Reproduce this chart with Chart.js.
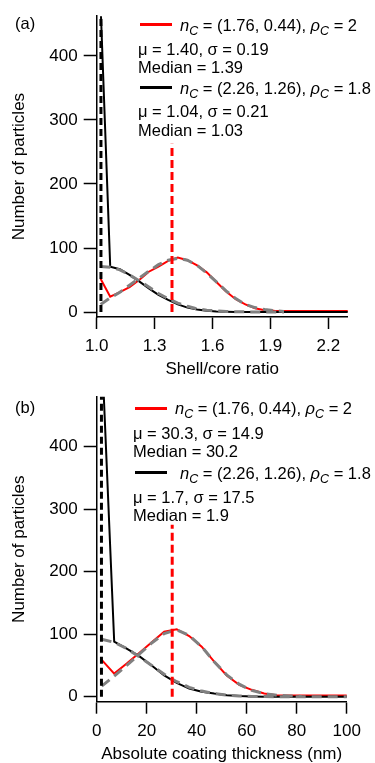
<!DOCTYPE html>
<html><head><meta charset="utf-8">
<script src="https://cdn.jsdelivr.net/npm/chart.js@4.4.0/dist/chart.umd.min.js"></script>
<style>
html,body{margin:0;padding:0;background:#fff;width:375px;height:763px;overflow:hidden;}
#wrap{position:relative;width:375px;height:763px;}
canvas{position:absolute;left:0;}
.t{position:absolute;font-family:"Liberation Sans",Arial,sans-serif;font-size:16.5px;line-height:20px;color:#000;white-space:nowrap;}
.sub{font-size:12.5px;position:relative;top:4px;font-style:italic;}
.sw{position:absolute;height:3px;width:32px;}
</style></head><body>
<div id="wrap">
<canvas id="ca" width="375" height="380" style="top:0px"></canvas>
<canvas id="cb" width="375" height="385" style="top:380px"></canvas>

<div class="t" style="left:15px;top:13px">(a)</div>
<div class="sw" style="left:140px;top:23px;background:#ff0000"></div>
<div class="t" style="left:180px;top:15px"><i>n</i><span class="sub">C</span> = (1.76, 0.44), <i>ρ</i><span class="sub">C</span> = 2</div>
<div class="t" style="left:138px;top:39px">μ = 1.40, σ = 0.19</div>
<div class="t" style="left:138px;top:57px">Median = 1.39</div>
<div class="sw" style="left:140px;top:86px;background:#000"></div>
<div class="t" style="left:180px;top:78px"><i>n</i><span class="sub">C</span> = (2.26, 1.26), <i>ρ</i><span class="sub">C</span> = 1.8</div>
<div class="t" style="left:138px;top:101px">μ = 1.04, σ = 0.21</div>
<div class="t" style="left:138px;top:120px">Median = 1.03</div>

<div class="t" style="left:15px;top:397px">(b)</div>
<div class="sw" style="left:135px;top:407px;background:#ff0000"></div>
<div class="t" style="left:175px;top:398px"><i>n</i><span class="sub">C</span> = (1.76, 0.44), <i>ρ</i><span class="sub">C</span> = 2</div>
<div class="t" style="left:133px;top:423px">μ = 30.3, σ = 14.9</div>
<div class="t" style="left:133px;top:441px">Median = 30.2</div>
<div class="sw" style="left:135px;top:471px;background:#000"></div>
<div class="t" style="left:180px;top:463px"><i>n</i><span class="sub">C</span> = (2.26, 1.26), <i>ρ</i><span class="sub">C</span> = 1.8</div>
<div class="t" style="left:133px;top:487px">μ = 1.7, σ = 17.5</div>
<div class="t" style="left:133px;top:505px">Median = 1.9</div>
</div>
<script>
// ---------- Panel (a): shell/core ratio ----------
const binsA = [1.02,1.07,1.12,1.17,1.22,1.27,1.32,1.37,1.42,1.47,1.52,1.57,1.62,1.67,1.72,1.77,1.82,1.87,1.92,1.97,2.02,2.07,2.12,2.17,2.22,2.27,2.32];
const redCountsA = [52,24,31,39,50,63,71,80,85,81,73,62,47,32,20,12,6,3,2,1.5,1.5,1.5,1.5,1.5,1.5,1.5,1.5];
const blackCountsA = [480,71,67,58,48,37,27,19,12,7,4,2,1,0.5,0,0,0,0,0,0,0,0,0,0,0,0,0];
const redFitA = [12,22,31,42,53,64,74,81,84,81,73,61,47,33,21,12,7,4,2,1];
const blackFitA = [71,70,66,58,49,39,29,21,14,9,5,3,2,1,0.5,0.3,0.2,0,0,0];
const redMedianA = [1.39, 1.39];
const redMedianYA = [0, 263];
const blackMedianA = [1.022, 1.022];
const blackMedianYA = [0, 1000];
const xTicksA = [1.0, 1.3, 1.6, 1.9, 2.2];
const yTicksA = [0, 100, 200, 300, 400];

// ---------- Panel (b): absolute coating thickness ----------
const binsB = [2,7,12,17,22,27,32,37,42,47,52,57,62,67,72,77,82,87,92,97,102];
const redCountsB = [59,37,53,70,87,104,108,97,80,56,34,19,11,5,2.5,2,2,2,2,2,2];
const blackCountsB = [560,88,77,65,50,34,22,13,8,5,2.5,1.2,0.5,0,0,0,0,0,0,0,0];
const redFitB = [17,33,50,68,86,101,107,98,80,56,35,20,10,5,2.5,1.2,0.5];
const blackFitB = [92,87,77,64,50,36,24,15,9,5,2.5,1.2,0.5,0.2,0,0,0,0,0,0,0];
const redMedianB = [30.2, 30.2];
const redMedianYB = [0, 275];
const blackMedianB = [1.9, 1.9];
const blackMedianYB = [0, 1000];
const xTicksB = [0, 20, 40, 60, 80, 100];
const yTicksB = [0, 100, 200, 300, 400];

const FONT = {family: '"Liberation Sans", Arial, sans-serif', size: 17};
const pts = (xs, ys) => ys.map((y, i) => ({x: xs[i], y: y}));

function build(id, d, g) {
  const ds = [
    {data: pts(d.redMedX, d.redMedY), borderColor: '#ff0000', borderWidth: 3, borderDash: [8, 4]},
    {data: pts(d.blackMedX, d.blackMedY), borderColor: '#000000', borderWidth: 3, borderDash: [7, 4]},
    {data: pts(d.bins, d.redFit), borderColor: '#808080', borderWidth: 3, borderDash: [10, 6]},
    {data: pts(d.bins, d.blackFit), borderColor: '#808080', borderWidth: 3, borderDash: [10, 6]},
    {data: pts(d.bins, d.black), borderColor: '#000000', borderWidth: 2},
    {data: pts(d.bins, d.red), borderColor: '#ff0000', borderWidth: 2}
  ].map(o => Object.assign({pointRadius: 0, tension: 0, fill: false}, o));

  return new Chart(document.getElementById(id), {
    type: 'line',
    data: {datasets: ds},
    options: {
      responsive: false, animation: false, devicePixelRatio: 1, events: [],
      layout: {padding: g.pad},
      plugins: {legend: {display: false}, tooltip: {enabled: false}},
      scales: {
        x: {
          type: 'linear', min: g.xmin, max: g.xmax,
          border: {display: true, color: '#000', width: 1.5},
          grid: {display: true, drawOnChartArea: false, drawTicks: true, tickLength: 12, tickWidth: 1.5, tickColor: '#000', color: '#000'},
          ticks: {font: FONT, color: '#000', padding: g.xpad, autoSkip: false, maxRotation: 0, callback: g.xfmt},
          title: {display: true, text: g.xtitle, font: FONT, color: '#000', padding: {top: 0, bottom: g.titleBottom}},
          afterBuildTicks: s => { s.ticks = d.xTicks.map(v => ({value: v})); },
          afterFit: s => { s.height = g.xh; }
        },
        y: {
          type: 'linear', min: g.ymin, max: g.ymax,
          border: {display: true, color: '#000', width: 1.5},
          grid: {display: true, drawOnChartArea: false, drawTicks: true, tickLength: 13, tickWidth: 1.5, tickColor: '#000', color: '#000'},
          ticks: {font: FONT, color: '#000', padding: 6, autoSkip: false, callback: v => String(v)},
          title: {display: true, text: 'Number of particles', font: FONT, color: '#000', padding: {top: 9.3, bottom: 0}},
          afterBuildTicks: s => { s.ticks = d.yTicks.map(v => ({value: v})); },
          afterFit: s => { s.width = 96.7; }
        }
      }
    }
  });
}

build('ca', {
  bins: binsA, red: redCountsA, black: blackCountsA, redFit: redFitA, blackFit: blackFitA,
  redMedX: redMedianA, redMedY: redMedianYA, blackMedX: blackMedianA, blackMedY: blackMedianYA,
  xTicks: xTicksA, yTicks: yTicksA
}, {
  pad: {left: 0, right: 27.3, top: 11.7, bottom: 0},
  xmin: 1.0, xmax: 2.3, ymin: -7.7, ymax: 462, xh: 63, xpad: 6.7, titleBottom: 0.3,
  xtitle: 'Shell/core ratio', xfmt: v => Number(v).toFixed(1)
});

build('cb', {
  bins: binsB, red: redCountsB, black: blackCountsB, redFit: redFitB, blackFit: blackFitB,
  redMedX: redMedianB, redMedY: redMedianYB, blackMedX: blackMedianB, blackMedY: blackMedianYB,
  xTicks: xTicksB, yTicks: yTicksB
}, {
  pad: {left: 0, right: 28.3, top: 16.7, bottom: 0},
  xmin: 0, xmax: 100, ymin: -8, ymax: 480, xh: 63.3, xpad: 7, titleBottom: 0.3,
  xtitle: 'Absolute coating thickness (nm)', xfmt: v => String(v)
});
</script>
</body></html>
